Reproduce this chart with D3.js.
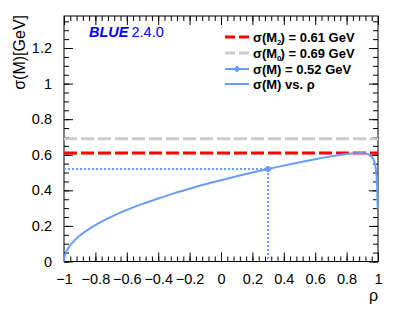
<!DOCTYPE html>
<html lang="en">
<meta charset="UTF-8">
<script src="https://d3js.org/d3.v7.min.js"></script>
<style>
  body { margin: 0; background: #fff; }
  text { font-family: "Liberation Sans", Arial, sans-serif; }
</style>
<body>
<div id="chart"></div>
<script>
// values
const rhoVals = [-1, -0.995, -0.99, -0.98, -0.97, -0.95, -0.9, -0.8, -0.7, -0.6, -0.5, -0.4, -0.3, -0.2, -0.1,
  0, 0.1, 0.2, 0.3, 0.4, 0.5, 0.6, 0.7, 0.8, 0.85, 0.88, 0.9, 0.93, 0.95, 0.97, 0.98, 0.99, 0.995, 0.998];
const sigmaVals = [0, 0.032, 0.046, 0.065, 0.079, 0.102, 0.145, 0.205, 0.251, 0.290, 0.324, 0.354, 0.383, 0.409, 0.434,
  0.457, 0.479, 0.500, 0.520, 0.539, 0.558, 0.575, 0.591, 0.604, 0.609, 0.610, 0.610, 0.605, 0.597, 0.575, 0.550, 0.488, 0.408, 0.296];
const sigmaM2 = 0.61, sigmaM0 = 0.69;
const bestRho = 0.30, bestSigma = 0.52;
const xTicks = [-1, -0.8, -0.6, -0.4, -0.2, 0, 0.2, 0.4, 0.6, 0.8, 1];
const xTickLabels = ["−1", "−0.8", "−0.6", "−0.4", "−0.2", "0", "0.2", "0.4", "0.6", "0.8", "1"];
const yTicks = [0, 0.2, 0.4, 0.6, 0.8, 1, 1.2];
const yTickLabels = ["0", "0.2", "0.4", "0.6", "0.8", "1", "1.2"];
const legendLabels = ["= 0.61 GeV", "= 0.69 GeV", "= 0.52 GeV", "vs. ρ"];

const W = 399, H = 312;
const L = 64, R = 378, T = 16, B = 261.5;
const blue = "#6a9cff";

const svg = d3.select("#chart").append("svg").attr("width", W).attr("height", H);

const x = d3.scaleLinear().domain([-1, 1]).range([L, R]);
const y = d3.scaleLinear().domain([0, 1.38]).range([B, T]);

// minor ticks
const xMinor = d3.range(-1, 1.0001, 0.04);
const yMinor = d3.range(0, 1.38, 0.05);

function axisGroup(axis, tx, ty) {
  const g = svg.append("g").attr("transform", `translate(${tx},${ty})`).call(axis);
  g.select(".domain").remove();
  g.selectAll("line").attr("stroke", "#000");
  return g;
}
// major ticks (inward)
const gx = axisGroup(d3.axisBottom(x).tickValues(xTicks).tickSize(-9).tickPadding(12)
  .tickFormat((d, i) => xTickLabels[i]), 0, B);
gx.selectAll("text").attr("font-size", 14.5).attr("fill", "#000").attr("font-family", "Liberation Sans, Arial");
axisGroup(d3.axisBottom(x).tickValues(xMinor).tickSize(-5).tickFormat(""), 0, B);
axisGroup(d3.axisTop(x).tickValues(xTicks).tickSize(-9).tickFormat(""), 0, T);
axisGroup(d3.axisTop(x).tickValues(xMinor).tickSize(-5).tickFormat(""), 0, T);

const gy = axisGroup(d3.axisLeft(y).tickValues(yTicks).tickSize(-9).tickPadding(12)
  .tickFormat((d, i) => yTickLabels[i]), L, 0);
gy.selectAll("text").attr("font-size", 14.5).attr("fill", "#000").attr("font-family", "Liberation Sans, Arial");
axisGroup(d3.axisLeft(y).tickValues(yMinor).tickSize(-5).tickFormat(""), L, 0);
axisGroup(d3.axisRight(y).tickValues(yTicks).tickSize(-9).tickFormat(""), R, 0);
axisGroup(d3.axisRight(y).tickValues(yMinor).tickSize(-5).tickFormat(""), R, 0);

// frame
svg.append("rect").attr("x", L).attr("y", T).attr("width", R - L).attr("height", B - T)
  .attr("fill", "none").attr("stroke", "#000").attr("stroke-width", 1);

// horizontal reference lines
svg.append("line").attr("x1", L).attr("x2", R).attr("y1", y(sigmaM0)).attr("y2", y(sigmaM0))
  .attr("stroke", "#cccccc").attr("stroke-width", 3).attr("stroke-dasharray", "13,4");
svg.append("line").attr("x1", L).attr("x2", R).attr("y1", y(sigmaM2)).attr("y2", y(sigmaM2))
  .attr("stroke", "#ff0000").attr("stroke-width", 3).attr("stroke-dasharray", "13,4");

// dotted lines to best point
svg.append("line").attr("x1", L).attr("x2", x(bestRho)).attr("y1", y(bestSigma)).attr("y2", y(bestSigma))
  .attr("stroke", blue).attr("stroke-width", 2).attr("stroke-dasharray", "2,2");
svg.append("line").attr("x1", x(bestRho)).attr("x2", x(bestRho)).attr("y1", y(bestSigma)).attr("y2", B)
  .attr("stroke", blue).attr("stroke-width", 2).attr("stroke-dasharray", "2,2");

// curve
const line = d3.line().x((d, i) => x(rhoVals[i])).y(d => y(d)).curve(d3.curveMonotoneX);
svg.append("path").attr("d", line(sigmaVals)).attr("fill", "none")
  .attr("stroke", blue).attr("stroke-width", 2);

svg.append("circle").attr("cx", x(bestRho)).attr("cy", y(bestSigma)).attr("r", 3).attr("fill", blue);

// BLUE label
const bl = svg.append("text").attr("x", 89).attr("y", 37).attr("font-size", 14.5).attr("fill", "#0000ff");
bl.append("tspan").attr("font-weight", "bold").attr("font-style", "italic").text("BLUE");
bl.append("tspan").attr("dx", 3).text("2.4.0");

// legend
const lx1 = 225, lx2 = 249, tx = 253;
const rows = [37, 53, 69, 84];
svg.append("line").attr("x1", lx1).attr("x2", lx2).attr("y1", rows[0]).attr("y2", rows[0])
  .attr("stroke", "#ff0000").attr("stroke-width", 3).attr("stroke-dasharray", "10,4");
svg.append("line").attr("x1", lx1).attr("x2", lx2).attr("y1", rows[1]).attr("y2", rows[1])
  .attr("stroke", "#cccccc").attr("stroke-width", 3).attr("stroke-dasharray", "10,4");
svg.append("line").attr("x1", lx1).attr("x2", lx2).attr("y1", rows[2]).attr("y2", rows[2])
  .attr("stroke", blue).attr("stroke-width", 2);
svg.append("line").attr("x1", (lx1 + lx2) / 2).attr("x2", (lx1 + lx2) / 2).attr("y1", rows[2] - 3).attr("y2", rows[2] + 3)
  .attr("stroke", blue).attr("stroke-width", 2);
svg.append("circle").attr("cx", (lx1 + lx2) / 2).attr("cy", rows[2]).attr("r", 2.5).attr("fill", blue);
svg.append("line").attr("x1", lx1).attr("x2", lx2).attr("y1", rows[3]).attr("y2", rows[3])
  .attr("stroke", blue).attr("stroke-width", 2);

const subs = ["2", "0", null, null];
rows.forEach((ry, i) => {
  const t = svg.append("text").attr("x", tx).attr("y", ry + 4.5).attr("font-size", 13)
    .attr("font-weight", "bold").attr("fill", "#000");
  t.append("tspan").text("σ(M");
  if (subs[i]) {
    t.append("tspan").attr("font-size", 8).attr("dy", 3).text(subs[i]);
    t.append("tspan").attr("dy", -3).attr("dx", -1).text(")");
  } else {
    t.append("tspan").text(")");
  }
  t.append("tspan").text(" " + legendLabels[i]);
});

// axis titles
svg.append("text").attr("transform", "translate(25,15) rotate(-90)").attr("text-anchor", "end")
  .attr("font-size", 16).text("σ(M)[GeV]");
svg.append("text").attr("x", 378).attr("y", 301).attr("text-anchor", "end")
  .attr("font-size", 16).text("ρ");
</script>
</body>
</html>
